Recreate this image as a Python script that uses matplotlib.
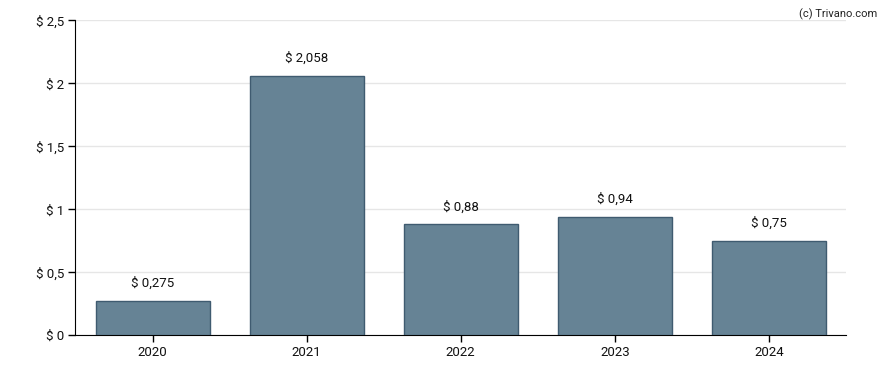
import matplotlib
matplotlib.use('Agg')
import matplotlib.pyplot as plt

years = ['2020', '2021', '2022', '2023', '2024']
dividends = [0.275, 2.058, 0.88, 0.94, 0.75]
bar_labels = ['$ 0,275', '$ 2,058', '$ 0,88', '$ 0,94', '$ 0,75']
y_ticks = [0, 0.5, 1, 1.5, 2, 2.5]
y_tick_labels = ['$ 0', '$ 0,5', '$ 1', '$ 1,5', '$ 2', '$ 2,5']

plt.rcParams['font.family'] = ['Roboto', 'DejaVu Sans']

fig = plt.figure(figsize=(8.88, 3.70), dpi=100)
ax = fig.add_axes([0.085, 0.0938, 0.8677, 0.8512])

x = range(len(years))
ax.bar(x, dividends, width=0.74, color='#668395', edgecolor='#3f5b70', linewidth=1, zorder=3)

for i, v in enumerate(dividends):
    ax.annotate(bar_labels[i], (i, v), xytext=(0, 8), textcoords='offset points',
                ha='center', va='bottom', fontsize=9.5, color='#111111')

ax.set_xlim(-0.5, 4.5)
ax.set_ylim(0, 2.5)
ax.set_xticks(list(x))
ax.set_xticklabels(years, fontsize=9.5, color='#111111')
ax.set_yticks(y_ticks)
ax.set_yticklabels(y_tick_labels, fontsize=9.5, color='#111111')
ax.tick_params(axis='both', length=5, width=1, color='black', pad=3)

ax.grid(axis='y', color='#e6e6e6', linewidth=1, zorder=0)
ax.spines['top'].set_visible(False)
ax.spines['right'].set_visible(False)

fig.text(0.988, 0.977, '(c) Trivano.com', ha='right', va='top', fontsize=8, color='#222222')

fig.savefig('out.png', dpi=100)
